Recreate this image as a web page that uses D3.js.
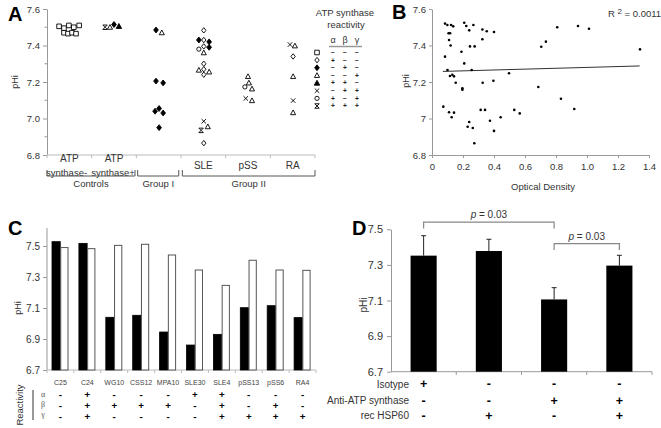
<!DOCTYPE html>
<html><head><meta charset="utf-8">
<script src="https://cdn.jsdelivr.net/npm/d3@7"></script>
<style>
body{margin:0;background:#fff}
svg{display:block}
text{font-family:"Liberation Sans",Arial,Helvetica,sans-serif}
</style>
</head><body>
<svg id="c" width="661" height="428"></svg>
<script>
// ---------------- Panel A data ----------------
const aCategories = ["ATP synthase-","ATP synthase+","Group I","SLE","pSS","RA"];
const aYTicks = [6.8,7.0,7.2,7.4,7.6];
// position in category units (0..6), pHi, symbol
const aPos = [0.27,0.38,0.49,0.60,0.72, 0.38,0.47,0.56,0.65,
  1.30,1.41,1.50,1.61,
  2.44,2.57,2.44,2.60,2.42,2.51,2.60,2.51,
  3.51,3.40,3.51,3.63,3.40,3.51,3.63,3.51,3.51,3.40,3.51,3.63,3.51,3.51,3.60,3.45,3.51,
  4.50,4.52,4.43,4.59,4.45,4.59,
  5.44,5.55,5.51,5.51,5.51,5.51];
const aPHi = [7.505,7.495,7.51,7.50,7.51, 7.47,7.465,7.47,7.465,
  7.50,7.50,7.515,7.505,
  7.485,7.47,7.205,7.195,7.04,7.055,7.03,6.95,
  7.483,7.43,7.43,7.42,7.38,7.395,7.39,7.36,7.30,7.265,7.27,7.255,7.24,6.985,6.955,6.935,6.865,
  7.23,7.195,7.173,7.162,7.11,7.098,
  7.405,7.398,7.34,7.23,7.098,7.032];
const aSym = ["sq","sq","sq","sq","sq","sq","sq","sq","sq",
  "xbar","otri","fdia","ftri",
  "fdia","otri","fdia","fdia","fdia","fdia","fdia","fdia",
  "odia","fdia","odia","fdia","ocir","odia","fdia","otri","odia","otri","odia","otri","odia","x","otri","xbar","odia",
  "otri","otri","ocir","otri","x","otri",
  "x","otri","odia","otri","x","otri"];
const legendSymbols = ["sq","odia","fdia","otri","ftri","x","ocir","xbar"];
const legendAlpha = ["−","+","−","−","+","−","+","+"];
const legendBeta  = ["−","−","+","−","+","+","−","+"];
const legendGamma = ["−","−","−","+","−","+","+","+"];

// ---------------- Panel B data ----------------
const bXTicks = [0,0.2,0.4,0.6,0.8,1.0,1.2,1.4];
const bYTicks = [6.8,7.0,7.2,7.4,7.6];
const bOD = [0.084,0.099,0.123,0.137,0.107,0.117,0.11,0.12,0.084,0.10,0.116,0.131,0.142,0.153,
  0.073,0.11,0.142,0.127,0.19,0.208,0.196,0.196,0.208,0.221,0.24,0.267,0.245,0.275,0.256,
  0.24,0.23,0.263,0.273,0.325,0.353,0.40,0.325,0.327,0.396,0.314,0.342,0.374,0.443,0.40,
  0.497,0.531,0.566,0.686,0.705,0.735,0.808,0.832,0.942,1.013,0.918,1.342];
const bPHi = [7.52,7.512,7.512,7.505,7.467,7.467,7.43,7.40,7.339,7.266,7.233,7.24,7.231,7.196,
  7.065,7.034,7.032,7.007,7.366,7.302,7.165,7.158,7.525,7.507,7.483,7.512,7.395,7.395,7.266,
  6.981,6.955,6.948,6.864,7.488,7.478,7.474,7.434,7.196,7.207,7.047,7.047,6.988,7.007,6.932,
  7.248,7.047,7.028,7.173,7.393,7.421,7.50,7.108,7.507,7.492,7.052,7.379];
const bTrendOD = [0.07,1.34];
const bTrendPHi = [7.258,7.288];

// ---------------- Panel C data ----------------
const cCategories = ["C25","C24","WG10","CSS12","MPA10","SLE30","SLE4","pSS13","pSS6","RA4"];
const cYTicks = [6.7,6.9,7.1,7.3,7.5];
const cBlack = [7.528,7.517,7.04,7.053,6.945,6.861,6.93,7.102,7.115,7.038];
const cWhite = [7.49,7.483,7.504,7.511,7.442,7.345,7.246,7.408,7.345,7.343];
const cAlpha = ["-","+","-","-","-","+","+","-","-","-"];
const cBeta  = ["-","+","+","+","+","-","+","-","+","-"];
const cGamma = ["-","+","-","-","-","-","+","+","+","+"];

// ---------------- Panel D data ----------------
const dCategories = ["g1","g2","g3","g4"];
const dYTicks = [6.7,6.9,7.1,7.3,7.5];
const dMean = [7.352,7.378,7.106,7.296];
const dErr  = [0.112,0.066,0.066,0.058];
const dIsotype = ["+","-","-","-"];
const dAnti    = ["-","-","+","+"];
const dHsp     = ["-","+","-","+"];
const dRowLabels = ["Isotype","Anti-ATP synthase","rec HSP60"];

const svg = d3.select("#c");
svg.append("rect").attr("width",661).attr("height",428).attr("fill","#fff");
const AX = "#999";
const TXT = "#333";

// symbol helper
const symX = {draw(ctx,size){const r=Math.sqrt(size)/2;ctx.moveTo(-r,-r);ctx.lineTo(r,r);ctx.moveTo(r,-r);ctx.lineTo(-r,r);}};
const symXBar = {draw(ctx,size){const r=Math.sqrt(size)/2;ctx.moveTo(-r,-r);ctx.lineTo(r,r);ctx.moveTo(r,-r);ctx.lineTo(-r,r);ctx.moveTo(-r,-r);ctx.lineTo(r,-r);ctx.moveTo(-r,r);ctx.lineTo(r,r);}};
const symDia = {draw(ctx,size){const r=Math.sqrt(size)/2;ctx.moveTo(0,-r*1.25);ctx.lineTo(r,0);ctx.lineTo(0,r*1.25);ctx.lineTo(-r,0);ctx.closePath();}};
const symTri = {draw(ctx,size){const r=Math.sqrt(size)/2;ctx.moveTo(0,-r*1.2);ctx.lineTo(r*1.15,r*0.9);ctx.lineTo(-r*1.15,r*0.9);ctx.closePath();}};
const symSq = {draw(ctx,size){const r=Math.sqrt(size)/2;ctx.rect(-r,-r,2*r,2*r);}};
const symCir = {draw(ctx,size){const r=Math.sqrt(size)/2;ctx.moveTo(r,0);ctx.arc(0,0,r,0,2*Math.PI);}};
const symDefs = {
  sq:{t:symSq,s:21,f:"#fff"}, odia:{t:symDia,s:19,f:"#fff"}, fdia:{t:symDia,s:22,f:"#000"},
  otri:{t:symTri,s:20,f:"#fff"}, ftri:{t:symTri,s:22,f:"#000"}, x:{t:symX,s:20,f:"none"},
  ocir:{t:symCir,s:18,f:"#fff"}, xbar:{t:symXBar,s:20,f:"none"}
};
function drawSym(g,type,x,y){
  const d=symDefs[type];
  g.append("path").attr("d",d3.symbol().type(d.t).size(d.s)()).attr("transform",`translate(${x},${y})`)
   .attr("fill",d.f).attr("stroke","#000").attr("stroke-width",0.9);
}
function styleAxis(g){g.selectAll(".domain").attr("stroke",AX);g.selectAll(".tick line").attr("stroke",AX);
  g.selectAll("text").attr("fill",TXT).style("font-family","'Liberation Sans',Arial,sans-serif");}
function txt(g,x,y,s,size,anchor){return g.append("text").attr("x",x).attr("y",y).attr("font-size",size)
  .attr("text-anchor",anchor||"middle").attr("fill",TXT).text(s);}
function panelLetter(t,x,y,size){svg.append("text").attr("x",x).attr("y",y).text(t).attr("font-size",size).attr("font-weight","bold").attr("fill","#000");}
function signColumn(g,x,ys,vals,size,bold,color){
  vals.forEach((v,i)=>{
    const t=g.append("text").attr("x",x).attr("y",ys[i]).attr("text-anchor","middle").attr("font-size",size).attr("fill",color||"#000").text(v);
    if(bold) t.attr("font-weight","bold");
  });
}

// ================= Panel A =================
{
  const yA = d3.scaleLinear([6.8,7.6],[155,9]);
  const xA = d3.scaleLinear([0,6],[47,315]);
  const g = svg.append("g");
  const ya = g.append("g").attr("transform","translate(47,0)")
    .call(d3.axisLeft(yA).tickValues(aYTicks).tickFormat(d3.format(".1f")).tickSize(4).tickSizeOuter(0).tickPadding(3));
  ya.selectAll("text").attr("font-size",9.5);
  styleAxis(ya);
  g.selectAll(".minorA").data([6.9,7.1,7.3,7.5]).join("line").attr("x1",44.5).attr("x2",47)
    .attr("y1",d=>yA(d)).attr("y2",d=>yA(d)).attr("stroke",AX);
  g.append("line").attr("x1",xA(0)).attr("x2",xA(6)).attr("y1",155).attr("y2",155).attr("stroke","#bbb");
  g.selectAll(".tA").data(d3.range(0,7)).join("line").attr("x1",d=>xA(d)).attr("x2",d=>xA(d))
    .attr("y1",155).attr("y2",158).attr("stroke","#bbb");
  g.append("text").attr("transform","translate(18,82) rotate(-90)").attr("text-anchor","middle").attr("font-size",9).attr("fill",TXT).text("pHi");
  aCategories.forEach((c,i)=>{
    if(i<2){
      const p=c.split(" ");
      txt(g,xA(i+0.5),161.5,p[0],10);
      txt(g,i==0?66.5:113,175.5,p[1],9.5);
    } else if(i>2){
      txt(g,xA(i+0.5),168.5,c,10);
    }
  });
  const brackets=[["Controls",0,1.97],["Group I",2.03,2.95],["Group II",3.03,6]];
  brackets.forEach(([t,a,b])=>{
    g.append("path").attr("d",`M${xA(a)},170V176H${xA(b)}V170`).attr("fill","none").attr("stroke","#555");
    txt(g,(xA(a)+xA(b))/2,187,t,9.5);
  });
  aPos.forEach((p,i)=>drawSym(g,aSym[i],xA(p),yA(aPHi[i])));
  // legend
  txt(g,345,16,"ATP synthase",9.5);
  txt(g,346,28,"reactivity",9.5);
  const colX=[333,345,357];
  ["α","β","γ"].forEach((t,i)=>txt(g,colX[i],42.5,t,9));
  g.append("line").attr("x1",329).attr("x2",362).attr("y1",46.5).attr("y2",46.5).attr("stroke","#999").attr("stroke-width",1.5);
  const legY = d3.scaleLinear([0,7],[52.5,106]);
  legendSymbols.forEach((s,i)=>drawSym(g,s,317,legY(i)));
  const ys = legendSymbols.map((s,i)=>legY(i)+2.4);
  [legendAlpha,legendBeta,legendGamma].forEach((arr,j)=>signColumn(g,colX[j],ys,arr,6.6,true,"#222"));
  panelLetter("A",8,21,20);
}

// ================= Panel B =================
{
  const yB = d3.scaleLinear([6.8,7.6],[155,9]);
  const xB = d3.scaleLinear([0,1.4],[432,649]);
  const g = svg.append("g");
  const ya = g.append("g").attr("transform","translate(432,0)")
    .call(d3.axisLeft(yB).tickValues(bYTicks).tickFormat(d=>d===7?"7":d3.format(".1f")(d)).tickSize(3).tickSizeOuter(0).tickPadding(3));
  ya.selectAll("text").attr("font-size",9.5);
  styleAxis(ya);
  const xa = g.append("g").attr("transform","translate(0,155)")
    .call(d3.axisBottom(xB).tickValues(bXTicks).tickFormat(d=>d===0?"0":d3.format(".1f")(d)).tickSize(3).tickSizeOuter(0).tickPadding(5));
  xa.selectAll("text").attr("font-size",9.5);
  styleAxis(xa);
  g.append("text").attr("transform","translate(409,81) rotate(-90)").attr("text-anchor","middle").attr("font-size",9).attr("fill",TXT).text("pHi");
  txt(g,543,190,"Optical Density",9.5);
  const rt=g.append("text").attr("x",608).attr("y",17).attr("font-size",9.5).attr("fill",TXT);
  rt.append("tspan").text("R ");
  rt.append("tspan").attr("dy",-3).attr("font-size",8).text("2");
  rt.append("tspan").attr("dy",3).text(" = 0.0011");
  g.append("line").attr("x1",xB(bTrendOD[0])).attr("x2",xB(bTrendOD[1])).attr("y1",yB(bTrendPHi[0])).attr("y2",yB(bTrendPHi[1]))
    .attr("stroke","#333").attr("stroke-width",1);
  g.selectAll(".pt").data(bOD).join("circle").attr("cx",d=>xB(d)).attr("cy",(d,i)=>yB(bPHi[i])).attr("r",1.3).attr("fill","#000");
  panelLetter("B",392,19,20);
}

// ================= Panel C =================
{
  const yC = d3.scaleLinear([6.7,7.6],[370,230.5]);
  const xC = d3.scaleBand(cCategories,[47,316]);
  const xSub = d3.scaleBand(["b","w"],[5,21.5]);
  const g = svg.append("g");
  const ya = g.append("g").attr("transform","translate(47,0)")
    .call(d3.axisLeft(yC).tickValues(cYTicks).tickFormat(d3.format(".1f")).tickSize(4).tickSizeOuter(0).tickPadding(3));
  ya.select(".domain").attr("d","M0,228V370");
  ya.selectAll("text").attr("font-size",10);
  styleAxis(ya);
  g.append("line").attr("x1",47).attr("x2",316).attr("y1",370).attr("y2",370).attr("stroke","#bbb");
  g.selectAll(".tC").data(d3.range(0,11)).join("line").attr("x1",d=>47+d*xC.step()).attr("x2",d=>47+d*xC.step())
    .attr("y1",370).attr("y2",373).attr("stroke","#bbb");
  g.append("text").attr("transform","translate(21,308) rotate(-90)").attr("text-anchor","middle").attr("font-size",9).attr("fill",TXT).text("pHi");
  g.selectAll(".bb").data(cBlack).join("rect").attr("x",(d,i)=>xC(cCategories[i])+xSub("b")).attr("width",xSub.bandwidth())
    .attr("y",d=>yC(d)).attr("height",d=>370-yC(d)).attr("fill","#000").attr("stroke","#000").attr("stroke-width",0.8);
  g.selectAll(".bw").data(cWhite).join("rect").attr("x",(d,i)=>xC(cCategories[i])+xSub("w")+0.5).attr("width",xSub.bandwidth()-1)
    .attr("y",d=>yC(d)).attr("height",d=>370-yC(d)).attr("fill","#fff").attr("stroke","#555").attr("stroke-width",1);
  cCategories.forEach((c,i)=>{
    const cx=xC(c)+xC.bandwidth()/2;
    txt(g,cx,385,c,7).attr("fill","#444");
    signColumn(g,cx,[397.5,408.5,419.5],[cAlpha[i],cBeta[i],cGamma[i]],9.8,true,"#000");
  });
  [["α",396.5],["β",406.5],["γ",416.5]].forEach(([t,y])=>txt(g,43,y,t,8).attr("fill","#555").style("font-family","'Liberation Serif',serif"));
  g.append("line").attr("x1",33).attr("x2",33).attr("y1",390).attr("y2",420).attr("stroke","#333");
  g.append("text").attr("transform","translate(23,405) rotate(-90)").attr("text-anchor","middle").attr("font-size",9.5).attr("fill",TXT).text("Reactivity");
  panelLetter("C",8,235,20);
}

// ================= Panel D =================
{
  const yD = d3.scaleLinear([6.7,7.5],[371.7,229.3]);
  const xD = d3.scaleBand(dCategories,[391,652]).paddingInner(0.6).paddingOuter(0.3);
  const g = svg.append("g");
  const ya = g.append("g").attr("transform","translate(391,0)")
    .call(d3.axisLeft(yD).tickValues(dYTicks).tickFormat(d3.format(".1f")).tickSize(4).tickSizeOuter(0).tickPadding(4));
  ya.selectAll("text").attr("font-size",11);
  styleAxis(ya);
  g.append("line").attr("x1",391).attr("x2",652).attr("y1",371.7).attr("y2",371.7).attr("stroke",AX);
  g.selectAll(".tD").data(d3.range(1,5)).join("line").attr("x1",d=>391+d*xD.step()).attr("x2",d=>391+d*xD.step())
    .attr("y1",371.7).attr("y2",375).attr("stroke",AX);
  g.append("text").attr("transform","translate(367,305) rotate(-90)").attr("text-anchor","middle").attr("font-size",10).attr("fill",TXT).text("pHi");
  g.selectAll(".bd").data(dMean).join("rect").attr("x",(d,i)=>xD(dCategories[i])).attr("width",xD.bandwidth())
    .attr("y",d=>yD(d)).attr("height",d=>371.7-yD(d)).attr("fill","#000");
  dMean.forEach((m,i)=>{
    const cx=xD(dCategories[i])+xD.bandwidth()/2;
    g.append("line").attr("x1",cx).attr("x2",cx).attr("y1",yD(m)).attr("y2",yD(m+dErr[i])).attr("stroke","#222");
    g.append("line").attr("x1",cx-2.5).attr("x2",cx+2.5).attr("y1",yD(m+dErr[i])).attr("y2",yD(m+dErr[i])).attr("stroke","#222");
    signColumn(g,cx,[388,404.5,419.5],[dIsotype[i],dAnti[i],dHsp[i]],12.5,true,"#000");
  });
  [[dRowLabels[0],387.5],[dRowLabels[1],404],[dRowLabels[2],418.5]].forEach(([t,y])=>txt(g,409,y,t,10,"end"));
  const cxOf=i=>xD(dCategories[i])+xD.bandwidth()/2;
  const sig=[[0,2,7.54,7.505],[2,3,7.42,7.384]];
  sig.forEach(([a,b,top,bot])=>{
    g.append("path").attr("d",`M${cxOf(a)},${yD(bot)}V${yD(top)}H${cxOf(b)}V${yD(bot)}`).attr("fill","none").attr("stroke","#888").attr("stroke-width",1.2);
    const t=txt(g,(cxOf(a)+cxOf(b))/2,yD(top)-4,"",10);
    t.append("tspan").attr("font-style","italic").text("p");
    t.append("tspan").text(" = 0.03");
  });
  panelLetter("D",352,235,20);
}
</script>
</body></html>
